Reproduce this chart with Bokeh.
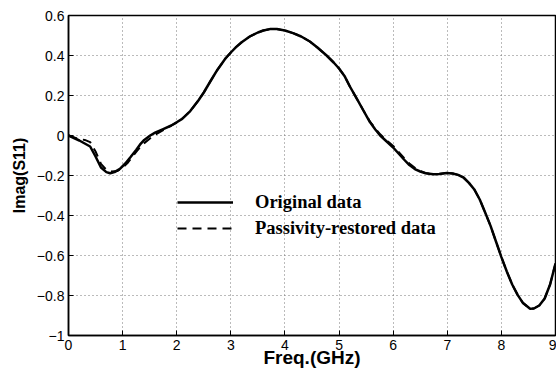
from bokeh.plotting import figure
from bokeh.models import FixedTicker, CustomJSTickFormatter, Legend, LegendItem, Range1d
from bokeh.embed import file_html
from bokeh.resources import INLINE

# Original data (frequency in GHz, Imag(S11))
freq_orig = [0, 0.2, 0.4, 0.5, 0.6, 0.7, 0.77, 0.85, 0.95, 1.05, 1.14, 1.25, 1.32, 1.4,
             1.51, 1.6, 1.75, 1.9, 2.0, 2.1, 2.25, 2.4, 2.5, 2.62, 2.75, 2.9, 3.0, 3.1,
             3.2, 3.35, 3.5, 3.6, 3.72, 3.85, 4.0, 4.15, 4.3, 4.46, 4.6, 4.77, 4.9, 5.0,
             5.1, 5.2, 5.33, 5.45, 5.57, 5.67, 5.76, 5.88, 6.0, 6.1, 6.2, 6.3, 6.4, 6.5,
             6.6, 6.74, 6.85, 6.99, 7.1, 7.2, 7.3, 7.4, 7.5, 7.6, 7.7, 7.8, 7.9, 8.0,
             8.1, 8.2, 8.3, 8.4, 8.53, 8.6, 8.7, 8.8, 8.9, 9.0]
imag_orig = [0, -0.025, -0.055, -0.105, -0.16, -0.183, -0.189, -0.183, -0.167, -0.14,
             -0.11, -0.072, -0.046, -0.022, 0.0, 0.014, 0.032, 0.05, 0.066, 0.083, 0.122,
             0.175, 0.215, 0.27, 0.328, 0.385, 0.415, 0.443, 0.466, 0.495, 0.515, 0.525,
             0.532, 0.532, 0.525, 0.512, 0.495, 0.47, 0.44, 0.4, 0.365, 0.335, 0.298,
             0.245, 0.183, 0.125, 0.067, 0.03, 0.0, -0.03, -0.06, -0.09, -0.12, -0.148,
             -0.168, -0.18, -0.189, -0.194, -0.192, -0.188, -0.19, -0.197, -0.21, -0.237,
             -0.27, -0.32, -0.385, -0.452, -0.53, -0.608, -0.68, -0.745, -0.797, -0.838,
             -0.866, -0.865, -0.85, -0.815, -0.745, -0.64]

# Passivity-restored data
freq_rest = [0, 0.2, 0.3, 0.4, 0.5, 0.6, 0.7, 0.8, 0.9, 1.0, 1.1, 1.2, 1.3, 1.4, 1.5,
             1.6, 1.75, 1.9, 2.0, 2.1, 2.25, 2.4, 2.5, 2.62, 2.75, 2.9, 3.0, 3.1, 3.2,
             3.35, 3.5, 3.6, 3.72, 3.85, 4.0, 4.15, 4.3, 4.46, 4.6, 4.77, 4.9, 5.0, 5.1,
             5.2, 5.33, 5.45, 5.57, 5.67, 5.76, 5.88, 6.0, 6.1, 6.2, 6.3, 6.4, 6.5, 6.6,
             6.74, 6.85, 6.99, 7.1, 7.2, 7.3, 7.4, 7.5, 7.6, 7.7, 7.8, 7.9, 8.0, 8.1,
             8.2, 8.3, 8.4, 8.53, 8.6, 8.7, 8.8, 8.9, 9.0]
imag_rest = [0, -0.018, -0.022, -0.033, -0.08, -0.142, -0.172, -0.18, -0.178, -0.162,
             -0.135, -0.1, -0.066, -0.038, -0.016, 0.004, 0.027, 0.05, 0.066, 0.083,
             0.122, 0.175, 0.215, 0.27, 0.328, 0.385, 0.415, 0.443, 0.466, 0.495, 0.515,
             0.525, 0.532, 0.532, 0.525, 0.512, 0.495, 0.47, 0.44, 0.4, 0.365, 0.335,
             0.298, 0.245, 0.183, 0.125, 0.07, 0.035, 0.006, -0.024, -0.052, -0.082,
             -0.112, -0.14, -0.162, -0.177, -0.188, -0.194, -0.192, -0.188, -0.19,
             -0.197, -0.21, -0.237, -0.27, -0.32, -0.385, -0.452, -0.53, -0.608, -0.68,
             -0.745, -0.797, -0.838, -0.866, -0.865, -0.85, -0.815, -0.745, -0.64]

x_ticks = [0, 1, 2, 3, 4, 5, 6, 7, 8, 9]
y_ticks = [-1, -0.8, -0.6, -0.4, -0.2, 0, 0.2, 0.4, 0.6]

p = figure(width=556, height=372, output_backend="svg", toolbar_location=None,
           x_range=Range1d(0, 9), y_range=Range1d(-1, 0.6),
           min_border_left=68, min_border_right=1, min_border_top=15, min_border_bottom=37)
p.background_fill_color = "white"
p.border_fill_color = "white"
p.outline_line_color = "black"
p.outline_line_width = 1.5

fmt = CustomJSTickFormatter(code="var r=Math.round(tick*10)/10; return String(r).replace('-', '\u2212');")
for ax, ticks in ((p.xaxis[0], x_ticks), (p.yaxis[0], y_ticks)):
    ax.ticker = FixedTicker(ticks=ticks)
    ax.formatter = fmt
    ax.major_tick_in = 5
    ax.major_tick_out = 0
    ax.minor_tick_line_color = None
    ax.axis_line_width = 1.5
    ax.major_label_text_font = "Liberation Sans"
    ax.major_label_text_font_size = "14px"
    ax.major_label_text_color = "black"
    ax.axis_label_text_font = "Liberation Sans"
    ax.axis_label_text_font_style = "bold"
    ax.axis_label_text_color = "black"
p.xaxis[0].axis_label = "Freq.(GHz)"
p.yaxis[0].axis_label = "Imag(S11)"
p.xaxis[0].axis_label_text_font_size = "19px"
p.yaxis[0].axis_label_text_font_size = "16px"
p.xaxis[0].major_label_standoff = 4
p.xaxis[0].axis_label_standoff = -6
p.yaxis[0].major_label_standoff = 4
p.yaxis[0].axis_label_standoff = 6

p.xgrid[0].ticker = FixedTicker(ticks=x_ticks)
p.ygrid[0].ticker = FixedTicker(ticks=y_ticks)
p.grid.grid_line_color = "#777777"
p.grid.grid_line_dash = "1 3"
p.grid.grid_line_width = 1

r1 = p.line(freq_orig, imag_orig, line_color="black", line_width=2.5)
r2 = p.line(freq_rest, imag_rest, line_color="black", line_width=2, line_dash="9 6")

legend = Legend(items=[LegendItem(label="Original data", renderers=[r1]),
                       LegendItem(label="Passivity-restored data", renderers=[r2])],
                location=(109, 96))
legend.background_fill_alpha = 0
legend.border_line_color = None
legend.padding = 0
legend.margin = 0
legend.spacing = 4
legend.glyph_width = 56
legend.glyph_height = 22
legend.label_standoff = 22
legend.label_text_font = "Liberation Serif"
legend.label_text_font_style = "bold"
legend.label_text_font_size = "18.5px"
legend.label_text_color = "black"
p.add_layout(legend)

open("out.html", "w").write(file_html(p, INLINE))
